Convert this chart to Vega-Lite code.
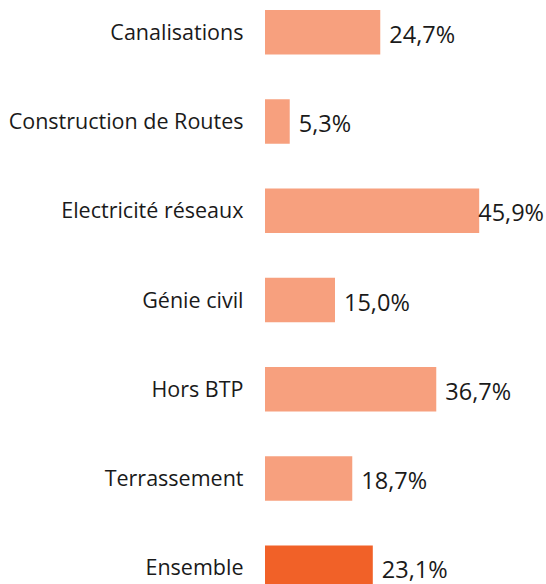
{
  "$schema": "https://vega.github.io/schema/vega-lite/v6.json",
  "width": 280,
  "height": 600,
  "padding": {"left": 265, "top": 0, "right": 1, "bottom": 0},
  "autosize": {"type": "none"},
  "background": "white",
  "config": {
    "view": {"stroke": null},
    "font": "Open Sans",
    "locale": {"number": {"decimal": ",", "thousands": " ", "grouping": [3], "currency": ["", " €"]}}
  },
  "data": {
    "values": [
      {"categorie": "Canalisations", "part": 0.247, "type": "secteur"},
      {"categorie": "Construction de Routes", "part": 0.053, "type": "secteur"},
      {"categorie": "Electricité réseaux", "part": 0.459, "type": "secteur"},
      {"categorie": "Génie civil", "part": 0.150, "type": "secteur"},
      {"categorie": "Hors BTP", "part": 0.367, "type": "secteur"},
      {"categorie": "Terrassement", "part": 0.187, "type": "secteur"},
      {"categorie": "Ensemble", "part": 0.231, "type": "total"}
    ]
  },
  "encoding": {
    "y": {
      "field": "categorie",
      "type": "nominal",
      "sort": null,
      "title": null,
      "scale": {"paddingInner": 0.5, "paddingOuter": 0.112},
      "axis": {"domain": false, "ticks": false, "labelPadding": 22, "labelOffset": 1.5, "labelFontSize": 21.5, "labelColor": "#1a1a1a", "labelFont": "Open Sans", "labelLimit": 300}
    },
    "x": {
      "field": "part",
      "type": "quantitative",
      "scale": {"domain": [0, 0.6]},
      "axis": null
    }
  },
  "layer": [
    {
      "mark": {"type": "bar"},
      "encoding": {
        "color": {
          "field": "type",
          "type": "nominal",
          "scale": {"domain": ["secteur", "total"], "range": ["#F7A07E", "#F16128"]},
          "legend": null
        }
      }
    },
    {
      "transform": [{"filter": "datum.categorie !== 'Electricité réseaux'"}],
      "mark": {"type": "text", "align": "left", "baseline": "middle", "dx": 9, "dy": 3.5, "fontSize": 23.5, "color": "#1a1a1a"},
      "encoding": {"text": {"field": "part", "type": "quantitative", "format": ".1%"}}
    },
    {
      "transform": [{"filter": "datum.categorie === 'Electricité réseaux'"}],
      "mark": {"type": "text", "align": "left", "baseline": "middle", "dx": -1, "dy": 3.5, "fontSize": 23.5, "color": "#1a1a1a"},
      "encoding": {"text": {"field": "part", "type": "quantitative", "format": ".1%"}}
    }
  ]
}
